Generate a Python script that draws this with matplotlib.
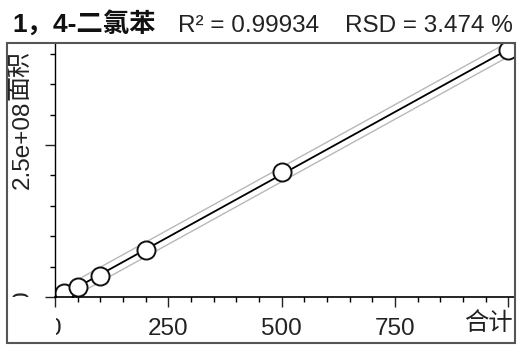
import numpy as np
import matplotlib
matplotlib.use("Agg")
import matplotlib.pyplot as plt
from matplotlib.patches import Rectangle
from matplotlib.transforms import Bbox

plt.rcParams['font.family'] = ['Liberation Sans', 'Noto Sans CJK SC', 'DejaVu Sans']

# calibration points (amount vs. peak area)
conc = [20, 50, 100, 200, 500, 1000]
area = [6.0e6, 1.6e7, 3.4e7, 7.8e7, 2.05e8, 4.06e8]
band = 1.2e7          # half width of the gray band around the fit

compound = "1，4-二氯苯"
r2_text = "R² = 0.99934"
rsd_text = "RSD = 3.474 %"
xticks = [0, 250, 500, 750, 1000]
xlabels = ["0", "250", "500", "750", ""]
yticks = [0, 2.5e8]
ylabels = ["0", "2.5e+08"]

W, H = 521, 345
fig = plt.figure(figsize=(W / 100, H / 100), dpi=100)
fig.patch.set_facecolor("white")

ax = fig.add_axes([55 / W, 48 / H, (515 - 55) / W, (297 - 43) / H])

slope, icpt = np.polyfit(conc, area, 1)
xf = np.array([0, 1000])
yf = slope * xf + icpt
ax.plot(xf, yf + band, color="#b8b8b8", lw=1.0)
ax.plot(xf, yf - band, color="#b8b8b8", lw=1.0)
ax.plot(xf, yf, color="black", lw=1.3)
ax.plot(conc, area, "o", ms=13, mfc="white", mec="#111111", mew=1.4)

ax.set_xlim(0, 1015)
ax.set_ylim(0, 4.18e8)
ax.set_xticks(xticks, xlabels)
ax.set_xticks(np.arange(50, 1001, 50), minor=True)
ax.set_yticks(yticks, ylabels)
ax.set_yticks(np.arange(5e7, 4.01e8, 5e7), minor=True)

for s in ["top", "right"]:
    ax.spines[s].set_visible(False)
ax.spines["left"].set_linewidth(1.0)
ax.spines["bottom"].set_linewidth(1.2)

ax.tick_params(axis="x", which="major", length=7, width=1, pad=8,
               labelsize=17.5, colors="#222222")
ax.tick_params(axis="x", which="minor", length=3.5, width=1)
ax.tick_params(axis="y", which="major", length=7, width=1, pad=8,
               labelsize=17.5, colors="#222222")
ax.tick_params(axis="y", which="minor", length=3.5, width=1)
for lab in ax.get_yticklabels():
    lab.set_rotation(90)
    lab.set_va("center")

ax.set_xlabel("合计", loc="right", fontsize=17.5, color="#222222")
ax.xaxis.set_label_coords(0.994, -0.058)
ax.set_ylabel("面积", loc="top", fontsize=18, color="#222222",
              bbox=dict(facecolor="white", edgecolor="none", pad=1))
ax.yaxis.set_label_coords(-0.052, 0.972)

# the "0" labels are half hidden behind the frame in the original
xt0 = ax.xaxis.get_major_ticks()[0].label1
xt0.set_clip_box(Bbox([[56, 0], [W, H]]))
xt0.set_clip_on(True)
yt0 = ax.yaxis.get_major_ticks()[0].label1
yt0.set_clip_box(Bbox([[0, 48], [W, H]]))
yt0.set_clip_on(True)

fig.add_artist(Rectangle((7 / W, 2 / H), (515 - 7) / W, (302 - 2) / H,
                         transform=fig.transFigure, fill=False,
                         edgecolor="#555555", lw=1.5))

ty = (H - 32) / H
fig.text(12 / W, ty, compound, fontsize=19, fontweight="bold", color="#111111")
fig.text(178 / W, ty, r2_text, fontsize=17.5, color="#222222")
fig.text(345 / W, ty, rsd_text, fontsize=17.5, color="#222222")

fig.savefig("out.png", dpi=100)
